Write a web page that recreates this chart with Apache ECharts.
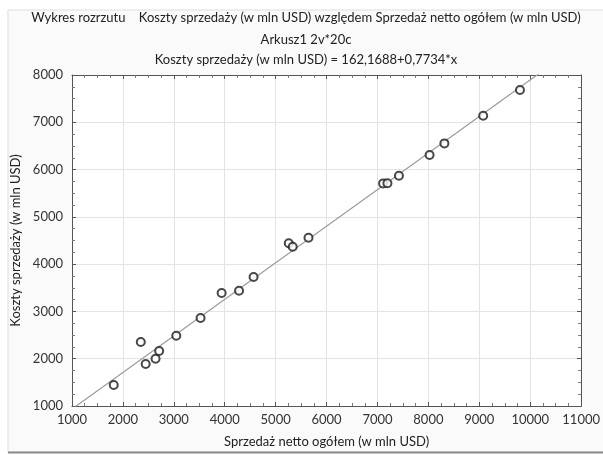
<!DOCTYPE html>
<html>
<head>
<meta charset="utf-8">
<script src="https://cdn.jsdelivr.net/npm/echarts@6/dist/echarts.min.js"></script>
<style>
  html, body { margin: 0; padding: 0; background: #ffffff; }
  #chart { width: 603px; height: 455px; }
</style>
</head>
<body>
<div id="chart"></div>
<script>
// Net sales (x) and cost of sales (y), in mln USD, 20 companies
const netSales = [1820, 2351, 2447, 2641, 2712, 3048, 3525, 3939, 4281, 4566,
                  5257, 5335, 5645, 7110, 7195, 7421, 8023, 8314, 9076, 9798];
const costOfSales = [1444, 2353, 1888, 2000, 2163, 2486, 2860, 3389, 3438, 3727,
                     4440, 4368, 4558, 5708, 5712, 5869, 6307, 6554, 7137, 7681];

// Fitted line: y = a + b*x
const fitIntercept = 162.1688;
const fitSlope = 0.7734;

const xTicks = [1000, 2000, 3000, 4000, 5000, 6000, 7000, 8000, 9000, 10000, 11000];
const yTicks = [1000, 2000, 3000, 4000, 5000, 6000, 7000, 8000];

const titleMain = 'Wykres rozrzutu    Koszty sprzedaży (w mln USD) względem Sprzedaż netto ogółem (w mln USD)';
const titleSheet = 'Arkusz1 2v*20c';
const titleFit = 'Koszty sprzedaży (w mln USD) = 162,1688+0,7734*x';
const xName = 'Sprzedaż netto ogółem (w mln USD)';
const yName = 'Koszty sprzedaży (w mln USD)';

const points = netSales.map((x, i) => [x, costOfSales[i]]);
const fitX = [xTicks[0], xTicks[xTicks.length - 1]];
const fitLine = fitX.map(x => [x, fitIntercept + fitSlope * x]);

const FONT = 'Lato';
const TEXT = '#222';
const frameColor = '#555';

function frameAxis(extra) {
  return Object.assign({
    type: 'value',
    axisLine: { show: true, onZero: false, lineStyle: { color: frameColor, width: 1 } },
    axisTick: { show: true, inside: true, length: 4, lineStyle: { color: frameColor } },
    minorTick: { show: true, splitNumber: 4, length: 3, lineStyle: { color: '#777' } },
    axisLabel: { show: false },
    splitLine: { show: false }
  }, extra);
}

function titleText(text, y) {
  return {
    type: 'text', x: 306, y: y,
    style: { text: text, font: '13px ' + FONT, fill: TEXT, align: 'center', verticalAlign: 'middle' }
  };
}

const chart = echarts.init(document.getElementById('chart'));
chart.setOption({
  backgroundColor: '#ffffff',
  animation: false,
  graphic: [
    {
      type: 'rect',
      shape: { x: 8, y: 10, width: 600, height: 442 },
      style: { fill: '#fafafa', stroke: '#dddddd', lineWidth: 1 },
      z: -10
    },
    {
      type: 'line',
      shape: { x1: 8, y1: 452.5, x2: 603, y2: 452.5 },
      style: { stroke: '#8a8a8a', lineWidth: 2 },
      z: -9
    },
    titleText(titleMain, 18),
    titleText(titleSheet, 40),
    titleText(titleFit, 60)
  ],
  grid: { left: 72, right: 15, top: 75, bottom: 49, backgroundColor: '#ffffff', show: true, borderWidth: 0 },
  xAxis: [
    {
      type: 'value', min: 1000, max: 11000, interval: 1000, position: 'bottom',
      name: xName, nameLocation: 'middle', nameGap: 29,
      nameTextStyle: { fontFamily: FONT, fontSize: 13, color: TEXT },
      axisLine: { show: true, onZero: false, lineStyle: { color: frameColor } },
      axisTick: { show: true, inside: true, length: 4, lineStyle: { color: frameColor } },
      minorTick: { show: true, splitNumber: 4, length: 3, lineStyle: { color: '#777' } },
      axisLabel: { fontFamily: FONT, fontSize: 13, color: '#333', margin: 7,
                   formatter: v => xTicks.includes(v) ? String(v) : '' },
      splitLine: { show: true, lineStyle: { color: '#e4e4e4' } }
    },
    frameAxis({ min: 1000, max: 11000, interval: 1000, position: 'top' })
  ],
  yAxis: [
    {
      type: 'value', min: 1000, max: 8000, interval: 1000, position: 'left',
      name: yName, nameLocation: 'middle', nameGap: 47, nameRotate: 90,
      nameTextStyle: { fontFamily: FONT, fontSize: 13, color: TEXT },
      axisLine: { show: true, onZero: false, lineStyle: { color: frameColor } },
      axisTick: { show: true, inside: true, length: 4, lineStyle: { color: frameColor } },
      minorTick: { show: true, splitNumber: 4, length: 3, lineStyle: { color: '#777' } },
      axisLabel: { fontFamily: FONT, fontSize: 13, color: '#333', margin: 9,
                   formatter: v => yTicks.includes(v) ? String(v) : '' },
      splitLine: { show: true, lineStyle: { color: '#e4e4e4' } }
    },
    frameAxis({ min: 1000, max: 8000, interval: 1000, position: 'right' })
  ],
  series: [
    {
      type: 'line',
      data: fitLine,
      xAxisIndex: 0, yAxisIndex: 0,
      showSymbol: false,
      clip: true,
      lineStyle: { color: '#9a9a9a', width: 1.2 },
      z: 2
    },
    {
      type: 'scatter',
      data: points,
      xAxisIndex: 0, yAxisIndex: 0,
      symbol: 'circle',
      symbolSize: 8,
      itemStyle: { color: '#ffffff', borderColor: '#1a1a1a', borderWidth: 2 },
      z: 3
    }
  ]
});
</script>
</body>
</html>
